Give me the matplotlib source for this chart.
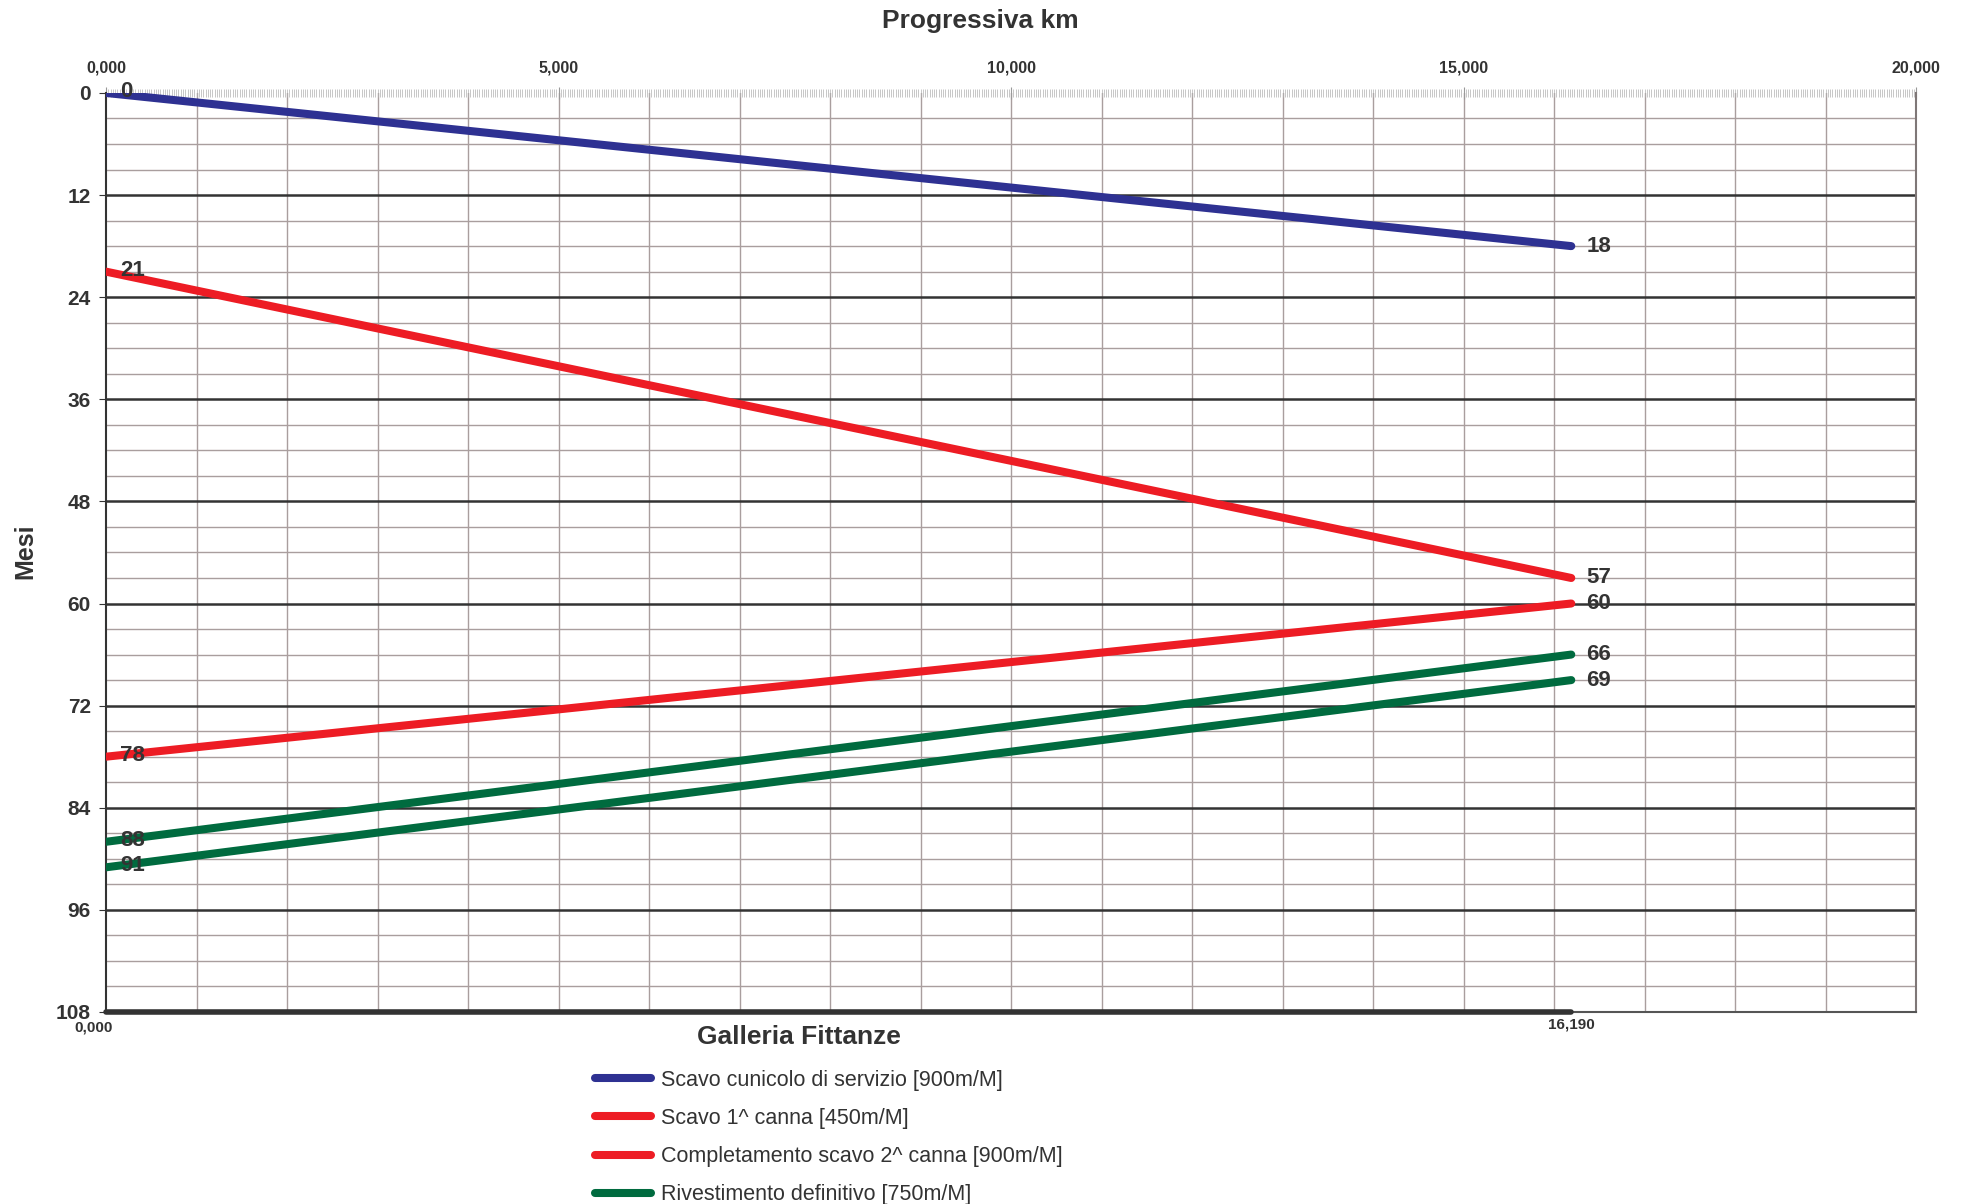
import matplotlib
matplotlib.use("Agg")
import matplotlib.pyplot as plt
import numpy as np
from matplotlib.ticker import MultipleLocator, FuncFormatter

plt.rcParams["font.family"] = ["Liberation Sans Narrow", "Liberation Sans", "DejaVu Sans"]

# tunnel length (m) and schedule lines (months)
tunnel_len = 16190
x_ends = [0, tunnel_len]

cunicolo_mesi = [0, 18]
canna1_mesi = [21, 57]
canna2_mesi = [78, 60]
rivest_a_mesi = [88, 66]
rivest_b_mesi = [91, 69]

series = [
    (cunicolo_mesi, "#2e3192", "Scavo cunicolo di servizio [900m/M]"),
    (canna1_mesi, "#ed1c24", "Scavo 1^ canna [450m/M]"),
    (canna2_mesi, "#ed1c24", "Completamento scavo 2^ canna [900m/M]"),
    (rivest_a_mesi, "#006b3f", "Rivestimento definitivo [750m/M]"),
    (rivest_b_mesi, "#006b3f", "_nolegend_"),
]

x_max = 20000
y_max = 108
txt = "#333333"

fig = plt.figure(figsize=(19.64, 12.04), dpi=100)
ax = fig.add_axes([0.054, 0.1595, 0.9216, 0.7633])

ax.set_xlim(0, x_max)
ax.set_ylim(y_max, 0)

# grid
for v in np.arange(1000, x_max, 1000):
    ax.axvline(v, color="#a99e9e", lw=1.0, zorder=1)
for v in np.arange(3, y_max, 3):
    if v % 12 == 0:
        ax.axhline(v, color="#333333", lw=1.8, zorder=2)
    else:
        ax.axhline(v, color="#a99e9e", lw=1.0, zorder=1)

for vals, col, lab in series:
    ax.plot(x_ends, vals, color=col, lw=5.8, solid_capstyle="round",
            label=lab, zorder=4)
    # start / end values
    ax.annotate(f"{vals[0]}", (0, vals[0]), xytext=(10, 1), textcoords="offset points",
                fontsize=16, fontweight="bold", color=txt, va="center", ha="left", zorder=5)
    ax.annotate(f"{vals[1]}", (tunnel_len, vals[1]), xytext=(11, 0), textcoords="offset points",
                fontsize=16, fontweight="bold", color=txt, va="center", ha="left", zorder=5)

# thick line along tunnel length at the bottom
ax.plot(x_ends, [y_max, y_max], color="#333333", lw=4, solid_capstyle="round",
        clip_on=False, zorder=5)

# axes / ticks
ax.xaxis.tick_top()
ax.xaxis.set_major_locator(MultipleLocator(5000))
ax.xaxis.set_minor_locator(MultipleLocator(25))
ax.xaxis.set_major_formatter(FuncFormatter(lambda v, p: f"{v/1000:.3f}".replace(".", ",")))
ax.tick_params(axis="x", which="major", top=True, labeltop=True, length=9, width=0.8,
               color="#999999", direction="inout", labelsize=11.5, pad=8, labelcolor=txt)
ax.tick_params(axis="x", which="minor", top=True, length=6, width=0.5,
               color="#b0b0b0", direction="inout")
for lbl in ax.get_xticklabels():
    lbl.set_fontweight("bold")

ax.yaxis.set_major_locator(MultipleLocator(12))
ax.tick_params(axis="y", which="major", length=5, width=0.8, color=txt,
               labelsize=15, pad=6, labelcolor=txt)
for lbl in ax.get_yticklabels():
    lbl.set_fontweight("bold")

ax.spines["left"].set_color("#333333")
ax.spines["left"].set_linewidth(1.5)
ax.spines["right"].set_color("#7f7777")
ax.spines["right"].set_linewidth(1.5)
ax.spines["bottom"].set_color("#555555")
ax.spines["bottom"].set_linewidth(1.5)
ax.spines["top"].set_visible(False)

# bottom km labels
ax.annotate("0,000", (0, y_max), xytext=(-9, -6), textcoords="offset points",
            fontsize=11, fontweight="bold", color=txt, ha="center", va="top")
ax.annotate(f"{tunnel_len/1000:.3f}".replace(".", ","), (tunnel_len, y_max), xytext=(0, -4),
            textcoords="offset points", fontsize=11, fontweight="bold", color=txt,
            ha="center", va="top")

fig.text(0.499, 0.9826, "Progressiva km", fontsize=19, fontweight="bold", color=txt,
         ha="center", va="center")
fig.text(0.0127, 0.5424, "Mesi", fontsize=18, fontweight="bold", color=txt,
         ha="center", va="center", rotation=90)
fig.text(0.4068, 0.1387, "Galleria Fittanze", fontsize=19, fontweight="bold", color=txt,
         ha="center", va="center")

leg = ax.legend(loc="upper left", bbox_to_anchor=(0.303, 0.1115),
                bbox_transform=fig.transFigure, frameon=False, fontsize=15.5,
                handlelength=2.6, handletextpad=0.45, labelspacing=0.8, borderpad=0,
                borderaxespad=0)
for t in leg.get_texts():
    t.set_color(txt)

fig.savefig("out.png", dpi=100)
